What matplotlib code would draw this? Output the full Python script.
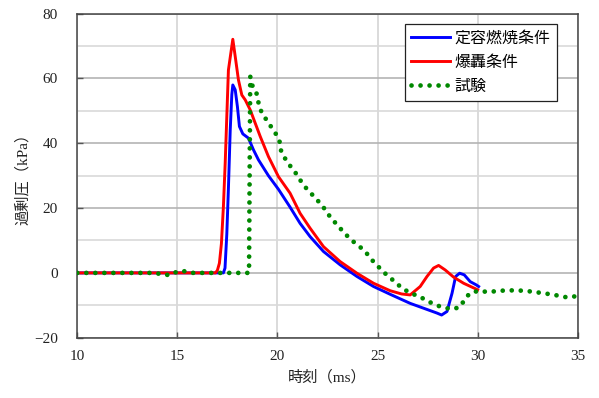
import numpy as np
import matplotlib
matplotlib.use("Agg")
import matplotlib.pyplot as plt
from matplotlib.ticker import MultipleLocator

plt.rcParams['font.family'] = ['Liberation Serif', 'Noto Sans CJK JP']

# 定容燃焼条件 (blue)
t_const = [10.0, 17.3, 17.38, 17.47, 17.55, 17.64, 17.72, 17.77, 17.89, 18.0, 18.1,
           18.27, 18.55, 18.8, 19.05, 19.55, 20.05, 20.63, 21.13, 21.63, 22.3,
           23.13, 23.97, 24.8, 25.63, 26.63, 27.3, 27.97, 28.2, 28.47, 28.72,
           28.9, 29.1, 29.33, 29.63, 29.93, 30.05]
p_const = [0.0, 0.0, 1.5, 12.0, 26.0, 44.0, 55.0, 58.0, 56.5, 51.3, 45.2,
           42.9, 41.6, 38.0, 34.9, 30.0, 25.8, 20.3, 15.3, 11.2, 6.6,
           2.5, -1.1, -4.2, -6.6, -9.4, -10.9, -12.4, -13.0, -11.9, -6.3,
           -1.1, -0.1, -0.6, -2.7, -3.7, -4.2]

# 爆轟条件 (red)
t_det = [10.0, 16.9, 17.0, 17.1, 17.2, 17.3, 17.39, 17.55, 17.77, 17.89, 18.05,
         18.22, 18.39, 18.64, 18.89, 19.14, 19.55, 20.05, 20.63, 21.13, 21.63,
         22.3, 23.13, 23.97, 24.8, 25.63, 26.2, 26.63, 27.13, 27.47, 27.8,
         28.05, 28.38, 28.8, 29.3, 30.0]
p_det = [0.0, 0.0, 0.8, 3.0, 9.0, 20.5, 34.0, 62.6, 72.1, 66.8, 59.6,
         54.9, 53.4, 50.3, 46.2, 42.1, 35.9, 29.7, 24.6, 18.4, 13.8,
         8.1, 3.5, -0.1, -3.2, -5.5, -6.5, -6.8, -4.2, -1.1, 1.5,
         2.3, 0.9, -1.3, -3.2, -5.2]

# 試験 (green)
t_test = [10.0, 13.9, 14.3, 14.7, 15.0, 15.4, 15.8, 16.5, 18.5, 18.58, 18.64,
          18.77, 18.97, 19.05, 19.17, 19.4, 19.65, 19.9, 20.1, 20.13, 20.34,
          20.6, 20.86, 21.13, 21.37, 21.67, 21.97, 22.27, 22.52, 22.8, 23.1,
          23.39, 23.72, 24.05, 24.39, 24.67, 24.97, 25.27, 25.6, 25.94, 26.27,
          26.67, 27.1, 27.47, 27.9, 28.3, 28.72, 29.1, 29.35, 29.6, 30.05,
          30.5, 31.0, 31.4, 31.85, 32.3, 32.75, 33.2, 33.65, 34.1, 34.5, 35.0]
p_test = [0.0, 0.0, -0.6, -0.6, 0.5, 0.5, 0.0, 0.0, 0.0, 0.0, 60.6,
          57.3, 55.2, 52.6, 50.1, 47.7, 45.4, 43.1, 41.0, 38.4, 35.7,
          33.3, 31.3, 28.7, 26.6, 24.6, 22.6, 20.5, 18.2, 16.1, 14.0,
          12.0, 10.0, 8.4, 6.6, 4.3, 2.4, 0.4, -1.3, -3.2, -4.9,
          -6.3, -7.3, -8.6, -9.9, -10.7, -11.2, -10.6, -8.3, -6.3, -5.5,
          -5.9, -5.6, -5.4, -5.4, -5.5, -5.8, -6.2, -6.6, -7.1, -7.6, -7.1]

fig = plt.figure(figsize=(5.99, 3.98), dpi=100)
ax = fig.add_axes([0.129, 0.1515, 0.8355, 0.8141])

ax.plot(t_const, p_const, color='#0000ff', lw=2.1, label='定容燃焼条件', zorder=3,
        solid_joinstyle='round')
ax.plot(t_det, p_det, color='#ff0000', lw=2.1, label='爆轟条件', zorder=3,
        solid_joinstyle='round')
ax.plot(t_test, p_test, color='#008800', lw=3.4, linestyle=(0, (0.01, 1.9)),
        dash_capstyle='round', label='試験', zorder=4)

ax.set_xlim(10, 35)
ax.set_ylim(-20, 80)
ax.xaxis.set_major_locator(MultipleLocator(5))
ax.yaxis.set_major_locator(MultipleLocator(20))
ax.yaxis.set_minor_locator(MultipleLocator(10))
ax.grid(which='major', axis='y', color='#b4b4b4', lw=1.2)
ax.grid(which='minor', axis='y', color='#d9d9d9', lw=1.2)
ax.grid(which='major', axis='x', color='#d4d4d4', lw=1.2)
ax.tick_params(which='major', direction='in', length=4, width=1, colors='#555555',
               labelcolor='#222222', labelsize=11)
ax.tick_params(axis='y', which='major', pad=14)
ax.tick_params(axis='x', which='major', pad=9)
ax.tick_params(which='minor', length=0)
for s in ax.spines.values():
    s.set_color('#444444')
    s.set_linewidth(1.1)

ax.set_xlabel('時刻（ms）', fontsize=11, color='#222222', labelpad=5)
ax.set_ylabel('過剰圧（kPa）', fontsize=11, color='#222222', labelpad=3)

leg = ax.legend(loc='upper right', bbox_to_anchor=(0.958, 0.967), borderaxespad=0,
                fontsize=11.5, fancybox=False, framealpha=1, edgecolor='#222222',
                handlelength=2.4, borderpad=0.4, labelspacing=0.5, handletextpad=0.3)
leg.get_frame().set_linewidth(0.9)

fig.savefig('out.png', dpi=100)
